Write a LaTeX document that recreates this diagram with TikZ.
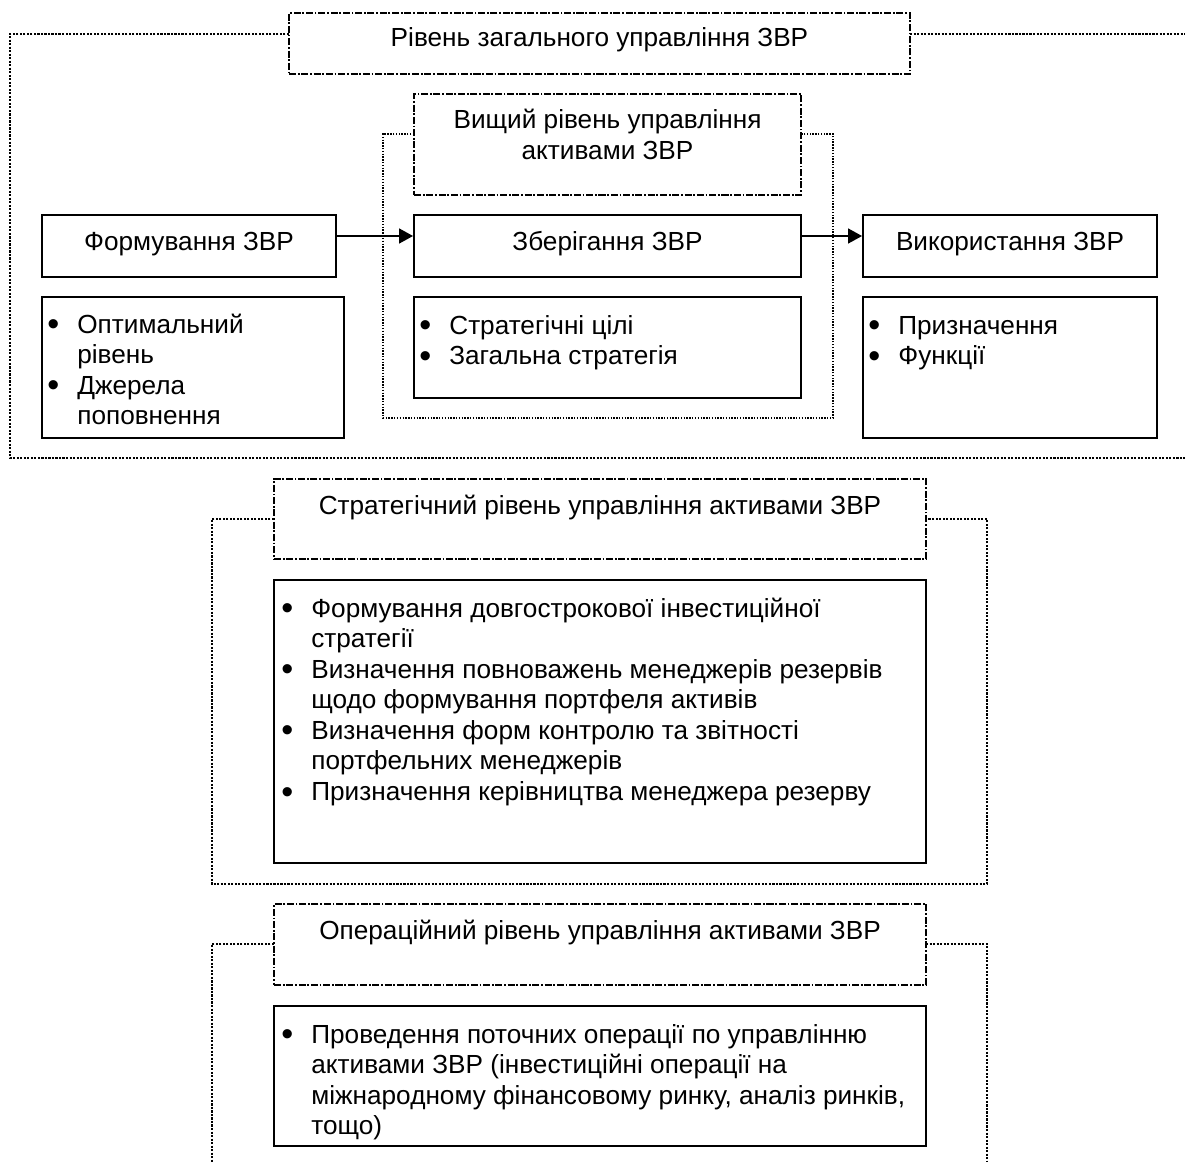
\documentclass[tikz,border=0pt]{standalone}
\usepackage{fontspec}
\setmainfont{Liberation Sans}
\usetikzlibrary{arrows.meta,fit}

\tikzset{
  box/.style={draw, line width=1.1pt, inner sep=0pt},
  head/.style={draw, line width=1.1pt, inner sep=0pt, dash pattern=on 4pt off 1pt on 1pt off 1pt},
  frame/.style={line width=1pt, dash pattern=on 1.2pt off 0.8pt},
  thinframe/.style={line width=0.7pt, dash pattern=on 0.8pt off 0.8pt},
  txt/.style={anchor=base, inner sep=0pt},
  lst/.style={anchor=base west, inner sep=0pt},
  arr/.style={line width=0.9pt, -{Triangle[length=0.28cm,width=0.3cm]}}
}
\newcommand{\bul}{\makebox[0.6cm][l]{\raisebox{-0.1em}{\scalebox{1.3}{\textbullet}}}}
\newcommand{\ind}{\hspace*{0.6cm}}

\begin{document}
\begin{tikzpicture}[x=0.02cm, y=-0.02cm, font=\fontsize{14.9pt}{17.4pt}\selectfont]
  \useasboundingbox (0,0) rectangle (1185,1162);
  % General level
  \node[head, fit={(289,13) (910,74)}] (top) {};
  \node[txt] (toptxt) at (599.5,47) {Рівень загального управління ЗВР};
  \draw[frame] (289,34) -- (10,34) -- (10,458) -- (1185,458);
  \draw[frame] (910,34) -- (1185,34);
  % Higher level
  \node[head, fit={(414,94) (801,195)}] (high) {};
  \node[txt] (hightxt) at (607.5,129) {\parbox[t]{8cm}{\centering Вищий рівень управління\\активами ЗВР}};
  \draw[thinframe] (414,134) -- (383,134) -- (383,418) -- (833,418) -- (833,134) -- (801,134);
  % Stages
  \node[box, fit={(42,215) (336,277)}] (form) {};
  \node[txt] (formtxt) at (189,250) {Формування ЗВР};
  \node[box, fit={(414,215) (801,277)}] (store) {};
  \node[txt] (storetxt) at (607.5,250) {Зберігання ЗВР};
  \node[box, fit={(863,215) (1157,277)}] (use) {};
  \node[txt] (usetxt) at (1010,250) {Використання ЗВР};
  \draw[arr] ([yshift=0.2cm]form.east) -- ([yshift=0.2cm]store.west);
  \draw[arr] ([yshift=0.2cm]store.east) -- ([yshift=0.2cm]use.west);
  % Stage lists
  \node[box, fit={(42,297) (344,438)}] (formlist) {};
  \node[lst] (formlisttxt) at (47,333) {\parbox[t]{7cm}{\raggedright
    \bul Оптимальний\\\ind рівень\\\bul Джерела\\\ind поповнення}};
  \node[box, fit={(414,297) (801,398)}] (storelist) {};
  \node[lst] (storelisttxt) at (419,334) {\parbox[t]{7cm}{\raggedright
    \bul Стратегічні цілі\\\bul Загальна стратегія}};
  \node[box, fit={(863,297) (1157,438)}] (uselist) {};
  \node[lst] (uselisttxt) at (868,334) {\parbox[t]{7cm}{\raggedright
    \bul Призначення\\\bul Функції}};
  % Strategic level
  \node[head, fit={(274,479) (926,559)}] (strat) {};
  \node[txt] (strattxt) at (600,514) {Стратегічний рівень управління активами ЗВР};
  \draw[frame] (274,519) -- (212,519) -- (212,884) -- (987,884) -- (987,519) -- (926,519);
  \node[box, fit={(274,580) (926,863)}] (stratlist) {};
  \node[lst] (stratlisttxt) at (281,617) {\parbox[t]{14cm}{\raggedright
    \bul Формування довгострокової інвестиційної\\
    \ind стратегії\\
    \bul Визначення повноважень менеджерів резервів\\
    \ind щодо формування портфеля активів\\
    \bul Визначення форм контролю та звітності\\
    \ind портфельних менеджерів\\
    \bul Призначення керівництва менеджера резерву}};
  % Operational level
  \node[head, fit={(274,904) (926,985)}] (oper) {};
  \node[txt] (opertxt) at (600,939) {Операційний рівень управління активами ЗВР};
  \draw[frame] (274,944) -- (212,944) -- (212,1162);
  \draw[frame] (926,944) -- (987,944) -- (987,1162);
  \node[box, fit={(274,1006) (926,1146)}] (operlist) {};
  \node[lst] (operlisttxt) at (281,1043) {\parbox[t]{14cm}{\raggedright
    \bul Проведення поточних операції по управлінню\\
    \ind активами ЗВР (інвестиційні операції на\\
    \ind міжнародному фінансовому ринку, аналіз ринків,\\
    \ind тощо)}};
\end{tikzpicture}
\end{document}
